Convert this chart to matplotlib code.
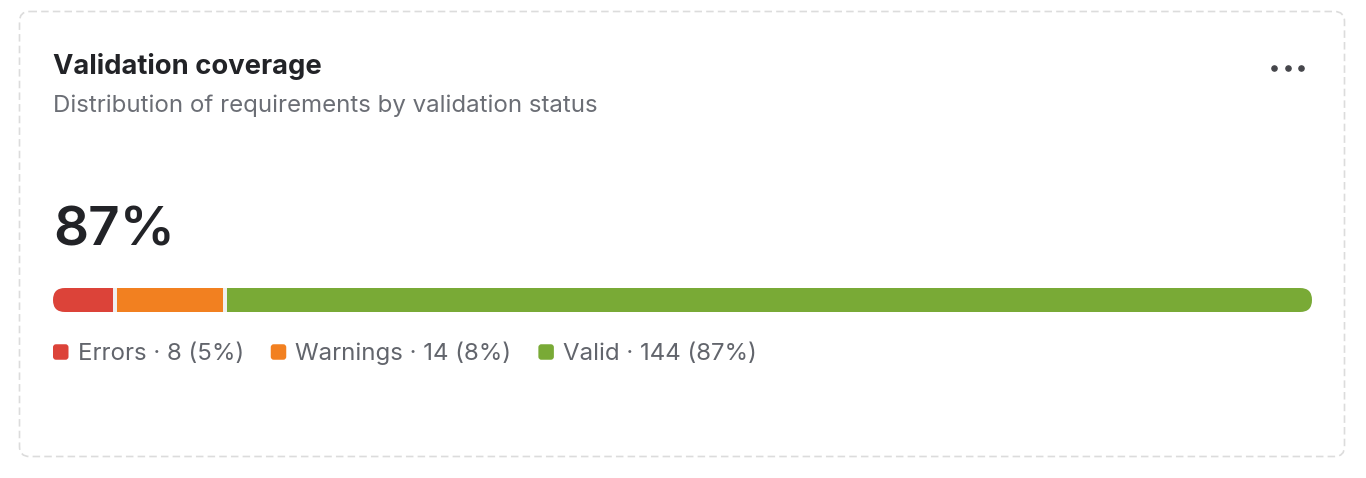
"""Validation coverage card: stacked status bar with legend."""

import matplotlib

matplotlib.use("Agg")
import matplotlib.pyplot as plt
from matplotlib.patches import FancyBboxPatch

plt.rcParams["font.family"] = ["Inter", "DejaVu Sans"]

# data
statuses = ["Errors", "Warnings", "Valid"]
counts = [8, 14, 144]
colors = ["#dc4339", "#f28020", "#79aa36"]
title = "Validation coverage"
subtitle = "Distribution of requirements by validation status"

W, H = 1366, 478
total = sum(counts)
pcts = [round(c / total * 100) for c in counts]

fig = plt.figure(figsize=(W / 100, H / 100), dpi=100)
bg = fig.add_axes([0, 0, 1, 1])
bg.set_xlim(0, W)
bg.set_ylim(H, 0)
bg.axis("off")

# card
card = FancyBboxPatch(
    (19.5, 11.5), 1325, 445,
    boxstyle="round,pad=0,rounding_size=10",
    facecolor="white", edgecolor="#dcdcdc", linewidth=1.2,
    linestyle=(0, (4.5, 2.5)),
)
bg.add_patch(card)

bg.text(53, 74, title, fontsize=19.7, fontweight="bold", color="#222327",
        va="baseline", ha="left")
bg.text(53, 112, subtitle, fontsize=17.3, color="#6b6e75",
        va="baseline", ha="left")
bg.text(53, 245, f"{pcts[-1]}%", fontsize=39.5, fontweight="semibold",
        color="#222327", va="baseline", ha="left")

# menu dots
bg.scatter([1274, 1288, 1301], [68, 68, 68], s=14, color="#45464b",
           zorder=5)

# bar: segments share the width left after the gaps
x0, x1, y0, bh = 53, 1312, 288, 24
gap_px = 4
bar_ax = fig.add_axes([x0 / W, 1 - (y0 + bh) / H, (x1 - x0) / W, bh / H])
bar_ax.set_xlim(0, x1 - x0)
bar_ax.set_ylim(-0.5, 0.5)
bar_ax.axis("off")

clip = FancyBboxPatch(
    (x0, y0), x1 - x0, bh,
    boxstyle=f"round,pad=0,rounding_size={bh / 2}",
    facecolor="#efefef", edgecolor="none",
    transform=bg.transData,
)
bg.add_patch(clip)

usable = (x1 - x0) - gap_px * (len(counts) - 1)
left = 0
for c, col in zip(counts, colors):
    w = usable * c / total
    bars = bar_ax.barh(0, w, left=left, height=1.0, color=col,
                       edgecolor="none")
    for b in bars:
        b.set_clip_path(clip)
    left += w + gap_px

# legend
fig.canvas.draw()
renderer = fig.canvas.get_renderer()
lx = 53
ly = 352
sq = 15.5
for name, c, p, col in zip(statuses, counts, pcts, colors):
    bg.add_patch(FancyBboxPatch(
        (lx, ly - sq / 2), sq, sq,
        boxstyle="round,pad=0,rounding_size=3",
        facecolor=col, edgecolor="none",
    ))
    t = bg.text(lx + sq + 9, 360, f"{name} \u00b7 {c} ({p}%)", fontsize=17.3,
                color="#62656c", va="baseline", ha="left")
    bb = t.get_window_extent(renderer)
    lx = bb.x1 + 27

fig.savefig("out.png", dpi=100)
